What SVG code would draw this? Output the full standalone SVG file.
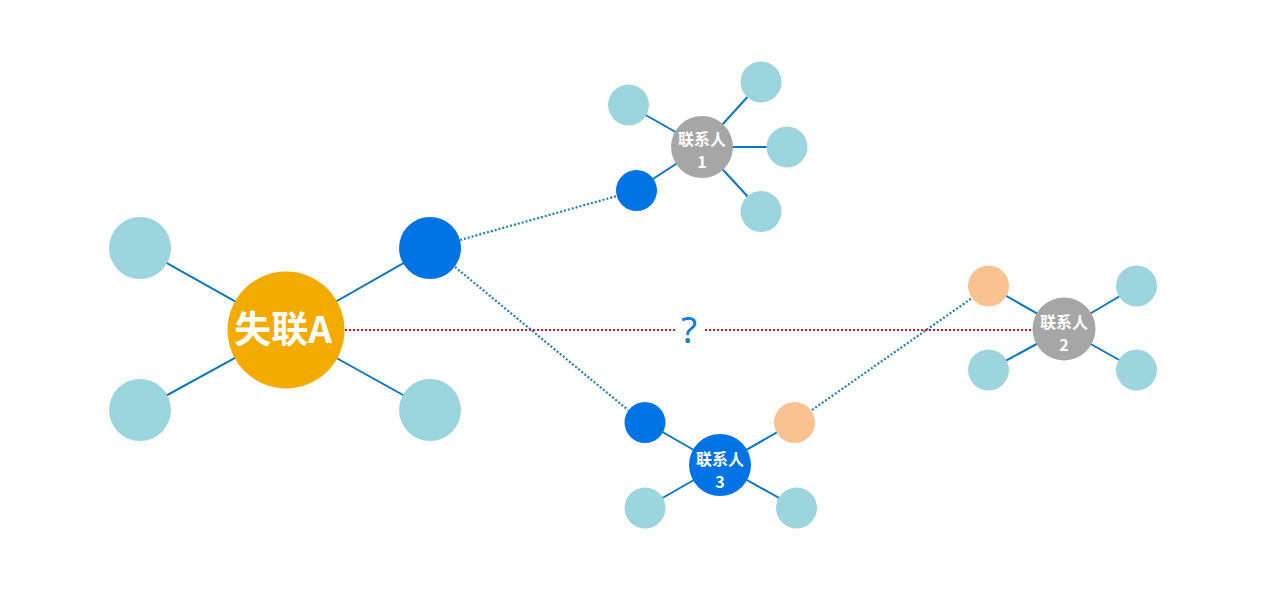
<svg xmlns="http://www.w3.org/2000/svg" width="1267" height="591" viewBox="0 0 1267 591">
<style>
.link{stroke:#0b76c4;stroke-width:2;fill:none}
.dot{stroke:#1a7fc8;stroke-width:2.2;stroke-dasharray:2 2;fill:none}
.red{stroke:#e3101c;stroke-width:2;stroke-dasharray:2 2;fill:none}
.teal{fill:#9dd5df}
.blue{fill:#0074e4}
.peach{fill:#f9c291}
.gray{fill:#a6a6a6}
.main{fill:#f4ab00}
.lbl{fill:#ffffff;font-family:"Noto Sans CJK SC","Noto Sans",sans-serif;font-weight:bold;text-anchor:middle}
.sm{font-size:16px}
</style>
<rect width="1267" height="591" fill="#ffffff"/>
<g id="connectors">
<line class="link" x1="286" y1="330" x2="140" y2="248"/>
<line class="link" x1="286" y1="330" x2="140" y2="410"/>
<line class="link" x1="286" y1="330" x2="430" y2="248"/>
<line class="link" x1="286" y1="330" x2="430" y2="410"/>
<line class="link" x1="702" y1="147" x2="628" y2="105"/>
<line class="link" x1="702" y1="147" x2="761" y2="82"/>
<line class="link" x1="702" y1="147" x2="787" y2="147"/>
<line class="link" x1="702" y1="147" x2="761" y2="211"/>
<line class="link" x1="702" y1="147" x2="636" y2="190"/>
<line class="link" x1="720" y1="465" x2="645" y2="422"/>
<line class="link" x1="720" y1="465" x2="795" y2="422"/>
<line class="link" x1="720" y1="465" x2="645" y2="508"/>
<line class="link" x1="720" y1="465" x2="797" y2="508"/>
<line class="link" x1="1064" y1="329" x2="989" y2="286"/>
<line class="link" x1="1064" y1="329" x2="1137" y2="286"/>
<line class="link" x1="1064" y1="329" x2="989" y2="370"/>
<line class="link" x1="1064" y1="329" x2="1137" y2="370"/>
<line class="dot" x1="460" y1="240" x2="617" y2="196"/>
<line class="dot" x1="455" y1="267" x2="628" y2="410"/>
<line class="dot" x1="812" y1="410" x2="972" y2="298"/>
<line class="red" x1="345" y1="330" x2="676" y2="330"/>
<line class="red" x1="705" y1="330" x2="1033" y2="330"/>
</g>
<text x="689" y="343" fill="#0a7fe0" font-family="Noto Sans, sans-serif" font-size="37" text-anchor="middle">?</text>
<g id="nodeA">
<circle class="main" cx="286" cy="330" r="58.5"/>
<text class="lbl" x="283" y="343" font-size="37">失联A</text>
</g>
<g id="a1"><circle class="teal" cx="140" cy="248" r="31"/></g>
<g id="a2"><circle class="teal" cx="140" cy="410" r="31"/></g>
<g id="a3"><circle class="blue" cx="430" cy="248" r="31"/></g>
<g id="a4"><circle class="teal" cx="430" cy="410" r="31"/></g>
<g id="contact1">
<circle class="gray" cx="702" cy="147" r="31"/>
<text class="lbl sm"><tspan x="702" y="144.5">联系人</tspan><tspan x="702" y="168">1</tspan></text>
</g>
<g id="c1a"><circle class="teal" cx="628.5" cy="105" r="20.5"/></g>
<g id="c1b"><circle class="teal" cx="761" cy="82" r="20.5"/></g>
<g id="c1c"><circle class="teal" cx="787" cy="147" r="20.5"/></g>
<g id="c1d"><circle class="teal" cx="761" cy="211.5" r="20.5"/></g>
<g id="c1e"><circle class="blue" cx="636.5" cy="190.5" r="20.5"/></g>
<g id="contact3">
<circle class="blue" cx="720" cy="465" r="31"/>
<text class="lbl sm"><tspan x="720" y="464.5">联系人</tspan><tspan x="720" y="488">3</tspan></text>
</g>
<g id="c3a"><circle class="blue" cx="645" cy="422.5" r="20.5"/></g>
<g id="c3b"><circle class="peach" cx="794.5" cy="422.5" r="20.5"/></g>
<g id="c3c"><circle class="teal" cx="645" cy="508" r="20.5"/></g>
<g id="c3d"><circle class="teal" cx="796.5" cy="508" r="20.5"/></g>
<g id="contact2">
<circle class="gray" cx="1064" cy="329" r="31.5"/>
<text class="lbl sm"><tspan x="1064" y="327.5">联系人</tspan><tspan x="1064" y="351">2</tspan></text>
</g>
<g id="c2a"><circle class="peach" cx="988.5" cy="286" r="20.5"/></g>
<g id="c2b"><circle class="teal" cx="1136.5" cy="286" r="20.5"/></g>
<g id="c2c"><circle class="teal" cx="988.5" cy="370" r="20.5"/></g>
<g id="c2d"><circle class="teal" cx="1136.5" cy="370" r="20.5"/></g>
</svg>
